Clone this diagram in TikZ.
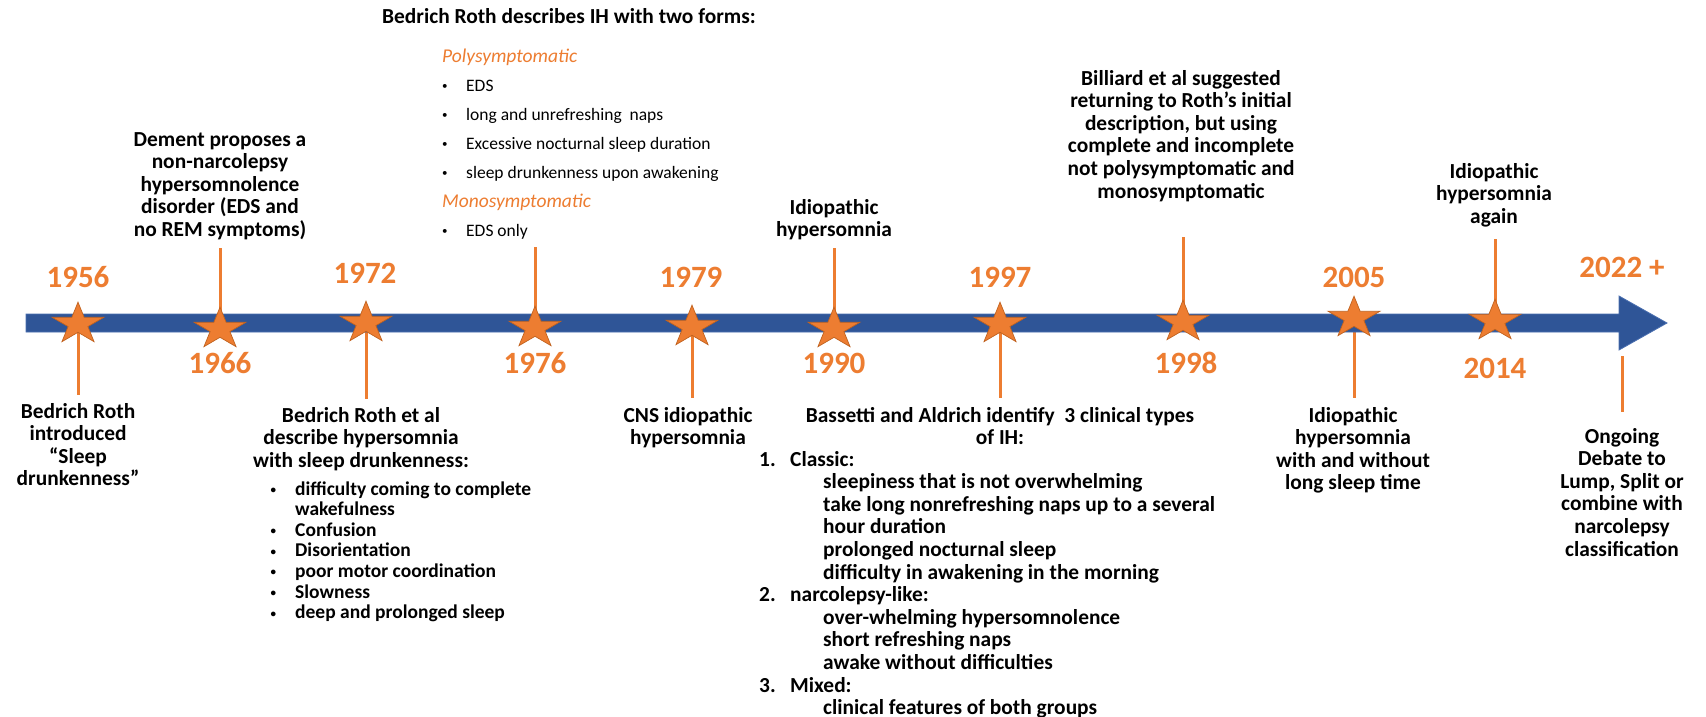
\documentclass[tikz,border=0pt]{standalone}
\usepackage{fontspec}
\setmainfont{Carlito}
\definecolor{tlorange}{HTML}{ED7D31}
\definecolor{tlorangedark}{HTML}{C0621F}
\definecolor{tlblue}{HTML}{2F5597}
\definecolor{tlblueedge}{HTML}{4A6FB0}
% small list bullet
\newcommand\tlbul{\raisebox{1.6pt}{\fontsize{11}{11}\selectfont\textbullet}}
\begin{document}
\begin{tikzpicture}[x=1pt,y=-1pt,
  % multi-line nodes sit on the baseline of their last line
  year/.style={text=tlorange,font=\fontsize{31}{31}\selectfont\bfseries,inner sep=0pt,anchor=base},
  event/.style={font=\fontsize{21.4}{22.6}\selectfont\bfseries,align=center,inner sep=0pt,anchor=base},
  eventlist/.style={font=\fontsize{21.4}{22.6}\selectfont\bfseries,align=left,inner sep=0pt,anchor=base west},
  smalllist/.style={font=\fontsize{19.5}{20.6}\selectfont\bfseries,align=left,inner sep=0pt,anchor=base west},
  formlist/.style={font=\fontsize{17.5}{29}\selectfont,align=left,inner sep=0pt,anchor=base west},
  stem/.style={draw=tlorange,line width=3pt},
  tlstar/.pic={\draw[fill=tlorange,draw=tlorangedark,line width=0.7pt,yscale=-0.8]
      (90:27.3) -- (126:10.4) -- (162:27.3) -- (198:10.4) -- (234:27.3) -- (270:10.4)
      -- (306:27.3) -- (342:10.4) -- (18:27.3) -- (54:10.4) -- cycle;}
]
\useasboundingbox (0,0) rectangle (1706,717);
\fill[white] (0,0) rectangle (1706,717);

% star positions on the axis
\coordinate (s1956) at (78,324);
\coordinate (s1966) at (220,329);
\coordinate (s1972) at (366,323);
\coordinate (s1976) at (535,328);
\coordinate (s1979) at (692,327);
\coordinate (s1990) at (834,329);
\coordinate (s1997) at (1000,324);
\coordinate (s1998) at (1183,322);
\coordinate (s2005) at (1354,318);
\coordinate (s2014) at (1495,321);

% free ends of the stems
\coordinate (e1956) at (78,395);
\coordinate (e1966) at (220,248);
\coordinate (e1972) at (366,399);
\coordinate (e1976) at (535,247);
\coordinate (e1979) at (692,398);
\coordinate (e1990) at (834,248);
\coordinate (e1997) at (1000,398);
\coordinate (e1998) at (1183,237);
\coordinate (e2005) at (1354,398);
\coordinate (e2014) at (1495,239);
\coordinate (e2022a) at (1622,356);
\coordinate (e2022b) at (1622,412);

% stems
\foreach \y in {1956,1966,1972,1976,1979,1990,1997,1998,2005,2014}
  \draw[stem] (s\y) -- (e\y);
\draw[stem] (e2022a) -- (e2022b);

% axis arrow
\coordinate (axisstart) at (26,323);
\coordinate (axistip) at (1667,323);
\fill[tlblue,draw=tlblueedge,line width=0.8pt]
  (26,314) -- (1619,314) -- (1619,296) -- (axistip) -- (1619,350) -- (1619,332) -- (26,332) -- cycle;

% stars
\foreach \y in {1956,1966,1972,1976,1979,1990,1997,1998,2005,2014}
  \pic at (s\y) {tlstar};

% years
\node[year] (y1956) at (78,287) {1956};
\node[year] (y1966) at (220,373) {1966};
\node[year] (y1972) at (365,283) {1972};
\node[year] (y1976) at (535,373) {1976};
\node[year] (y1979) at (691,287) {1979};
\node[year] (y1990) at (834,373) {1990};
\node[year] (y1997) at (1000,287) {1997};
\node[year] (y1998) at (1186,373) {1998};
\node[year] (y2005) at (1354,287) {2005};
\node[year] (y2014) at (1495,378) {2014};
\node[year] (y2022) at (1622,277) {2022 +};

% events above the axis
\node[event] (t1966) at (220,236.4) {Dement proposes a\\non-narcolepsy\\hypersomnolence\\disorder (EDS and\\no REM symptoms)};

\node[eventlist] (t1976head) at (382,24) {Bedrich Roth describes IH with two forms:};
\node[formlist] (t1976list) at (442,236) {%
  \textcolor{tlorange}{\fontsize{19.5}{29}\selectfont\itshape Polysymptomatic}\\
  \makebox[24pt][l]{\tlbul}EDS\\
  \makebox[24pt][l]{\tlbul}long and unrefreshing\ \ naps\\
  \makebox[24pt][l]{\tlbul}Excessive nocturnal sleep duration\\
  \makebox[24pt][l]{\tlbul}sleep drunkenness upon awakening\\
  \textcolor{tlorange}{\fontsize{19.5}{29}\selectfont\itshape Monosymptomatic}\\
  \makebox[24pt][l]{\tlbul}EDS only};

\node[event] (t1990) at (834,236.6) {Idiopathic\\hypersomnia};
\node[event] (t1998) at (1181,198) {Billiard et al suggested\\returning to Roth’s initial\\description, but using\\complete and incomplete\\not polysymptomatic and\\monosymptomatic};
\node[event] (t2014) at (1494,223.2) {Idiopathic\\hypersomnia\\again};

% events below the axis
\node[event] (t1956) at (78,485.8) {Bedrich Roth\\introduced\\“Sleep\\drunkenness”};

\node[event] (t1972) at (361,467.2) {Bedrich Roth et al\\describe hypersomnia\\with sleep drunkenness:};
\node[smalllist] (t1972list) at (273,618.6) {%
  \makebox[22pt][l]{\hspace*{-2.5pt}\tlbul}difficulty coming to complete\\
  \makebox[22pt][l]{}wakefulness\\
  \makebox[22pt][l]{\hspace*{-2.5pt}\tlbul}Confusion\\
  \makebox[22pt][l]{\hspace*{-2.5pt}\tlbul}Disorientation\\
  \makebox[22pt][l]{\hspace*{-2.5pt}\tlbul}poor motor coordination\\
  \makebox[22pt][l]{\hspace*{-2.5pt}\tlbul}Slowness\\
  \makebox[22pt][l]{\hspace*{-2.5pt}\tlbul}deep and prolonged sleep};

\node[event] (t1979) at (688,444.6) {CNS idiopathic\\hypersomnia};

\node[event] (t1997) at (1000,444.6) {Bassetti and Aldrich identify~~3 clinical types\\of IH:};
\node[eventlist] (t1997list) at (759,714.6) {%
  \makebox[31pt][l]{1.}Classic:\\
  \hspace*{64pt}sleepiness that is not overwhelming\\
  \hspace*{64pt}take long nonrefreshing naps up to a several\\
  \hspace*{64pt}hour duration\\
  \hspace*{64pt}prolonged nocturnal sleep\\
  \hspace*{64pt}difficulty in awakening in the morning\\
  \makebox[31pt][l]{2.}narcolepsy-like:\\
  \hspace*{64pt}over-whelming hypersomnolence\\
  \hspace*{64pt}short refreshing naps\\
  \hspace*{64pt}awake without difficulties\\
  \makebox[31pt][l]{3.}Mixed:\\
  \hspace*{64pt}clinical features of both groups};

\node[event] (t2005) at (1353,489.8) {Idiopathic\\hypersomnia\\with and without\\long sleep time};
\node[event] (t2022) at (1622,556) {Ongoing\\Debate to\\Lump, Split or\\combine with\\narcolepsy\\classification};
\end{tikzpicture}
\end{document}
